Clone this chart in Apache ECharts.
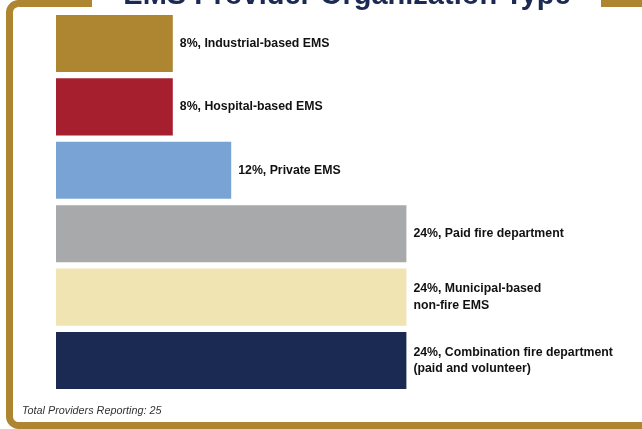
<!DOCTYPE html>
<html>
<head>
<meta charset="utf-8">
<script src="https://cdn.jsdelivr.net/npm/echarts@6/dist/echarts.min.js"></script>
<style>
html,body{margin:0;padding:0;background:#fff;}
#chart{width:642px;height:429px;}
</style>
</head>
<body>
<div id="chart"></div>
<script>
var titleText = 'EMS Provider Organization Type';
var footnote = 'Total Providers Reporting: 25';
var categories = [
  'Industrial-based EMS',
  'Hospital-based EMS',
  'Private EMS',
  'Paid fire department',
  'Municipal-based\nnon-fire EMS',
  'Combination fire department\n(paid and volunteer)'
];
var values = [8, 8, 12, 24, 24, 24];
var colors = ['#AE8531', '#A61F2F', '#7AA3D5', '#A8A9AB', '#F1E4B3', '#1B2A52'];

var gold = '#AE8531';
var chart = echarts.init(document.getElementById('chart'), null, {renderer: 'canvas'});
var option = {
  backgroundColor: '#ffffff',
  animation: false,
  grid: {left: 56, right: 148, top: 11.8, bottom: 36.8, containLabel: false},
  xAxis: {
    type: 'value', min: 0, max: 30,
    show: false, splitLine: {show: false}
  },
  yAxis: {
    type: 'category', data: categories, inverse: true,
    axisLine: {show: false}, axisTick: {show: false}, axisLabel: {show: false}, splitLine: {show: false}
  },
  series: [{
    type: 'bar',
    barCategoryGap: '10%',
    data: values.map(function (v, i) {
      return {value: v, itemStyle: {color: colors[i]}};
    }),
    label: {
      show: true,
      position: 'right',
      distance: 7,
      color: '#111111',
      fontFamily: '"Liberation Sans", Arial, Helvetica, sans-serif',
      fontWeight: 'bold',
      fontSize: 12.3,
      lineHeight: 16.5,
      formatter: function (p) {
        return p.value + '%, ' + p.name;
      }
    }
  }],
  graphic: [
    {
      type: 'rect', z: 0,
      shape: {x: 9.5, y: 3.5, width: 700, height: 422, r: 9},
      style: {fill: 'none', stroke: gold, lineWidth: 7}
    },
    {
      type: 'rect', z: 1,
      shape: {x: 92, y: 0, width: 509, height: 9},
      style: {fill: '#ffffff'}
    },
    {
      type: 'text', z: 2,
      x: 347, y: -4,
      style: {
        text: titleText,
        fill: '#1B2A52',
        font: 'bold 29px "Liberation Sans", Arial, sans-serif',
        textAlign: 'center',
        textVerticalAlign: 'middle'
      }
    },
    {
      type: 'text', z: 2,
      x: 22, y: 411,
      style: {
        text: footnote,
        fill: '#333333',
        font: 'italic 10.8px "Liberation Sans", Arial, sans-serif',
        textAlign: 'left',
        textVerticalAlign: 'middle'
      }
    }
  ]
};
chart.setOption(option);
</script>
</body>
</html>
